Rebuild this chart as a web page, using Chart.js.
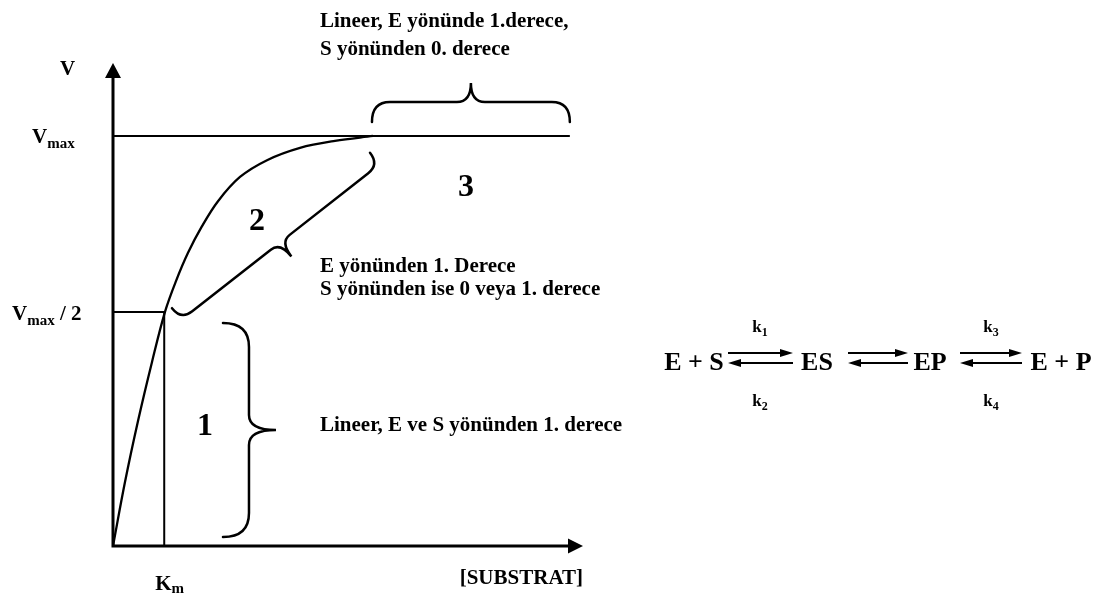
<!DOCTYPE html>
<html><head><meta charset="utf-8">
<script src="https://cdn.jsdelivr.net/npm/chart.js@4.4.1/dist/chart.umd.min.js"></script>
<style>html,body{margin:0;padding:0;background:#fff}canvas{display:block}</style>
</head><body>
<canvas id="c" width="1111" height="594"></canvas>
<script>
// ---- data ----
const substrate = [0, 0.255, 0.532, 0.830, 1.106, 1.340, 1.596, 1.894, 2.234, 2.702, 3.277, 3.979, 4.723, 5.532];
const velocity  = [0, 0.156, 0.305, 0.449, 0.571, 0.646, 0.715, 0.780, 0.841, 0.900, 0.941, 0.971, 0.988, 1.0];
const vmax = 1.0;
const halfV = 0.571;
const km = 1.09;
const vmaxLineEnd = 9.72;
const xRange = [0, 10];
const yRange = [0, 1.178];

const SERIF = '"Liberation Serif", "Times New Roman", serif';
const F = (s) => 'bold ' + s + 'px ' + SERIF;

// braces (in data units; order chosen so the tip side is to the right of travel)
const braces = [
  {p1: [2.34, 0.544], p2: [2.34, 0.022], h: 26, t: 53, rE: 24, rT: 15},
  {p1: [5.468, 0.959], p2: [1.255, 0.580], h: 15, t: 33, rE: 14, rT: 12},
  {p1: [5.51, 1.034], p2: [9.72, 1.034], h: 20, t: 39, rE: 18, rT: 14}
];

function arrowHead(ctx, x, y, dx, dy, len, hw) {
  const nx = -dy, ny = dx;
  ctx.beginPath();
  ctx.moveTo(x, y);
  ctx.lineTo(x - dx*len + nx*hw, y - dy*len + ny*hw);
  ctx.lineTo(x - dx*len - nx*hw, y - dy*len - ny*hw);
  ctx.closePath();
  ctx.fill();
}

function drawBrace(ctx, a, b, o) {
  const dx = b[0]-a[0], dy = b[1]-a[1];
  const L = Math.hypot(dx, dy);
  const d = [dx/L, dy/L], n = [d[1], -d[0]];
  ctx.save();
  ctx.setTransform(d[0], d[1], n[0], n[1], a[0], a[1]);
  ctx.beginPath();
  ctx.moveTo(0, 0);
  ctx.quadraticCurveTo(0, o.h, o.rE, o.h);
  ctx.lineTo(L/2 - o.rT, o.h);
  ctx.quadraticCurveTo(L/2, o.h, L/2, o.t);
  ctx.quadraticCurveTo(L/2, o.h, L/2 + o.rT, o.h);
  ctx.lineTo(L - o.rE, o.h);
  ctx.quadraticCurveTo(L, o.h, L, 0);
  ctx.lineWidth = 2.5;
  ctx.strokeStyle = '#000';
  ctx.stroke();
  ctx.restore();
}

function subText(ctx, x, y, main, sub, after, mainSize, subSize, subDy) {
  ctx.textAlign = 'left';
  ctx.font = F(mainSize);
  ctx.fillText(main, x, y);
  let w = ctx.measureText(main).width;
  ctx.font = F(subSize);
  ctx.fillText(sub, x + w, y + subDy);
  w += ctx.measureText(sub).width;
  if (after) { ctx.font = F(mainSize); ctx.fillText(after, x + w, y); }
}

function eqArrows(ctx, x1, x2, yTop, yBot) {
  ctx.lineWidth = 1.8;
  ctx.beginPath();
  ctx.moveTo(x1, yTop); ctx.lineTo(x2 - 8, yTop);
  ctx.moveTo(x1 + 8, yBot); ctx.lineTo(x2, yBot);
  ctx.stroke();
  arrowHead(ctx, x2, yTop, 1, 0, 13, 4);
  arrowHead(ctx, x1, yBot, -1, 0, 13, 4);
}

const decor = {
  id: 'decor',
  afterDatasetsDraw(chart) {
    const ctx = chart.ctx;
    const xs = chart.scales.x, ys = chart.scales.y;
    const X = v => xs.getPixelForValue(v), Y = v => ys.getPixelForValue(v);
    ctx.save();
    ctx.fillStyle = '#000'; ctx.strokeStyle = '#000';
    // axes
    const ox = X(xRange[0]), oy = Y(yRange[0]);
    const ex = X(xRange[1]), ty = Y(yRange[1]);
    ctx.lineWidth = 3;
    ctx.beginPath();
    ctx.moveTo(ox, oy + 1.5); ctx.lineTo(ox, ty + 10);
    ctx.moveTo(ox - 1.5, oy); ctx.lineTo(ex - 10, oy);
    ctx.stroke();
    arrowHead(ctx, ox, ty, 0, -1, 15, 8);
    arrowHead(ctx, ex, oy, 1, 0, 15, 7.5);
    // braces
    ctx.lineCap = 'round';
    braces.forEach(b => drawBrace(ctx, [X(b.p1[0]), Y(b.p1[1])], [X(b.p2[0]), Y(b.p2[1])], b));
    ctx.lineCap = 'butt';
    // axis labels
    ctx.textBaseline = 'alphabetic';
    ctx.font = F(21); ctx.textAlign = 'left';
    ctx.fillText('V', 60, 75);
    subText(ctx, 32, Y(vmax) + 7, 'V', 'max', '', 21, 15, 5);
    subText(ctx, 12, Y(halfV) + 8, 'V', 'max', ' / 2', 21, 15, 5);
    subText(ctx, X(km) - 9, 590, 'K', 'm', '', 21, 15, 3);
    ctx.font = F(21); ctx.textAlign = 'right';
    ctx.fillText('[SUBSTRAT]', ex, 584);
    // region numbers
    ctx.font = F(32); ctx.textAlign = 'center';
    ctx.fillText('1', 205, 435);
    ctx.fillText('2', 257, 230);
    ctx.fillText('3', 466, 196);
    // notes
    ctx.font = F(21); ctx.textAlign = 'left';
    ctx.fillText('Lineer, E yönünde 1.derece,', 320, 27);
    ctx.fillText('S yönünden 0. derece', 320, 55);
    ctx.fillText('E yönünden 1. Derece', 320, 272);
    ctx.fillText('S yönünden ise 0 veya 1. derece', 320, 295);
    ctx.fillText('Lineer, E ve S yönünden 1. derece', 320, 431);
    // reaction scheme
    ctx.font = F(26); ctx.textAlign = 'center';
    ctx.fillText('E + S', 694, 370);
    ctx.fillText('ES', 817, 370);
    ctx.fillText('EP', 930, 370);
    ctx.fillText('E + P', 1061, 370);
    eqArrows(ctx, 728, 793, 353, 363);
    eqArrows(ctx, 848, 908, 353, 363);
    eqArrows(ctx, 960, 1022, 353, 363);
    const kLab = (cx, y, s) => {
      ctx.font = F(17); const w1 = ctx.measureText('k').width;
      ctx.font = F(12); const w2 = ctx.measureText(s).width;
      subText(ctx, cx - (w1 + w2)/2, y, 'k', s, '', 17, 12, 4);
    };
    kLab(760, 332, '1'); kLab(760, 406, '2');
    kLab(991, 332, '3'); kLab(991, 406, '4');
    ctx.restore();
  }
};

new Chart(document.getElementById('c'), {
  type: 'scatter',
  data: {
    datasets: [
      { data: substrate.map((x, i) => ({x, y: velocity[i]})), showLine: true,
        borderColor: '#000', borderWidth: 2.3, pointRadius: 0, tension: 0.35, clip: false },
      { data: [{x: 0, y: vmax}, {x: vmaxLineEnd, y: vmax}], showLine: true,
        borderColor: '#000', borderWidth: 2.2, pointRadius: 0, clip: false },
      { data: [{x: 0, y: halfV}, {x: km, y: halfV}, {x: km, y: 0}], showLine: true,
        borderColor: '#000', borderWidth: 2, pointRadius: 0, clip: false }
    ]
  },
  options: {
    responsive: false, animation: false, events: [],
    layout: { padding: { left: 113, right: 528, top: 63, bottom: 48 } },
    plugins: { legend: { display: false }, tooltip: { enabled: false } },
    scales: {
      x: { type: 'linear', display: false, min: xRange[0], max: xRange[1] },
      y: { type: 'linear', display: false, min: yRange[0], max: yRange[1] }
    }
  },
  plugins: [decor]
});
</script>
</body></html>
